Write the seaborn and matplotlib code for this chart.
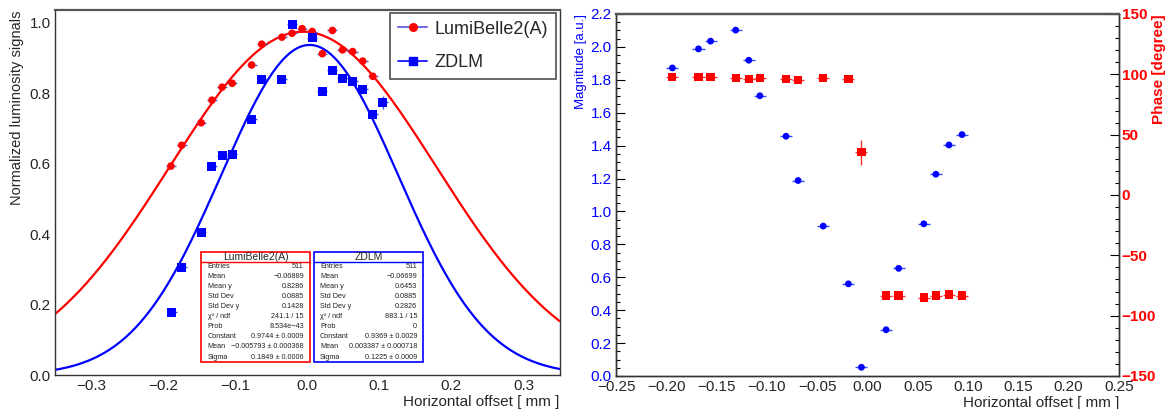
import numpy as np
import pandas as pd
import matplotlib
matplotlib.use("Agg")
import matplotlib.pyplot as plt
from matplotlib.lines import Line2D
from matplotlib.patches import Rectangle
from matplotlib.ticker import MultipleLocator
import seaborn as sns

# left panel: normalized luminosity signals vs horizontal offset
lumi_x = [-0.189, -0.174, -0.147, -0.132, -0.118, -0.104, -0.077, -0.063, -0.035,
          -0.021, -0.007, 0.007, 0.021, 0.035, 0.049, 0.063, 0.077, 0.091]
lumi_y = [0.593, 0.652, 0.716, 0.780, 0.817, 0.828, 0.880, 0.939, 0.959,
          0.970, 0.983, 0.975, 0.912, 0.978, 0.923, 0.918, 0.891, 0.848]
zdlm_x = [-0.188, -0.174, -0.147, -0.132, -0.118, -0.104, -0.077, -0.063, -0.035,
          -0.021, 0.007, 0.021, 0.035, 0.049, 0.063, 0.077, 0.091, 0.105]
zdlm_y = [0.178, 0.306, 0.405, 0.592, 0.623, 0.626, 0.726, 0.839, 0.839,
          0.995, 0.958, 0.806, 0.865, 0.842, 0.834, 0.811, 0.740, 0.774]
zdlm_yerr = [0.004, 0.004, 0.004, 0.004, 0.004, 0.004, 0.012, 0.004, 0.004,
             0.004, 0.004, 0.004, 0.004, 0.004, 0.004, 0.004, 0.004, 0.018]

# gaussian fit results (constant, mean, sigma)
lumi_fit = (0.9744, -0.005793, 0.1849)
zdlm_fit = (0.9369, 0.003387, 0.1225)

lumi_stats = [("Entries", "511"), ("Mean", "\u22120.06889"), ("Mean y", "0.8286"),
              ("Std Dev", "0.0885"), ("Std Dev y", "0.1428"), ("\u03c7\u00b2 / ndf", "241.1 / 15"),
              ("Prob", "8.534e\u221243"), ("Constant", "0.9744 \u00b1 0.0009"),
              ("Mean", "\u22120.005793 \u00b1 0.000368"), ("Sigma", "0.1849 \u00b1 0.0006")]
zdlm_stats = [("Entries", "511"), ("Mean", "\u22120.06699"), ("Mean y", "0.6453"),
              ("Std Dev", "0.0885"), ("Std Dev y", "0.2826"), ("\u03c7\u00b2 / ndf", "883.1 / 15"),
              ("Prob", "0"), ("Constant", "0.9369 \u00b1 0.0029"),
              ("Mean", "0.003387 \u00b1 0.000718"), ("Sigma", "0.1225 \u00b1 0.0009")]

# right panel: magnitude and phase vs horizontal offset
mag_x = [-0.194, -0.168, -0.156, -0.131, -0.118, -0.107, -0.081, -0.069, -0.044,
         -0.019, -0.006, 0.0185, 0.031, 0.056, 0.068, 0.081, 0.094]
mag_y = [1.872, 1.988, 2.035, 2.102, 1.919, 1.703, 1.457, 1.188, 0.911,
         0.560, 0.053, 0.281, 0.654, 0.925, 1.226, 1.404, 1.467]
phase_y = [97.7, 97.7, 97.7, 96.9, 96.1, 96.9, 96.1, 95.2, 96.9,
           96.1, 35.4, -83.3, -83.3, -85.0, -83.3, -82.5, -83.3]
phase_err = [1, 1, 1, 1, 1, 1, 1, 1, 1, 1, 10.4, 1, 1, 1, 1, 1, 1]

sns.set_style("white")
plt.rcParams["font.family"] = ["Liberation Sans", "DejaVu Sans"]
plt.rcParams["axes.unicode_minus"] = True

RED = "#ff0000"
BLUE = "#0000ff"
FRAME = "#333333"


def gauss(x, c, m, s):
    return c * np.exp(-0.5 * ((x - m) / s) ** 2)


def root_frame(ax):
    for sp in ax.spines.values():
        sp.set_color(FRAME)
        sp.set_linewidth(1.0)
    ax.spines["top"].set_linewidth(1.6)
    ax.spines["top"].set_color("#555555")
    ax.tick_params(which="both", direction="in", color="black", width=0.8)
    ax.tick_params(which="major", length=6.5)
    ax.tick_params(which="minor", length=3.2)


fig = plt.figure(figsize=(11.68, 4.09), dpi=100)
ax1 = fig.add_axes([0.0469, 0.0831, 0.4322, 0.8924])
ax2 = fig.add_axes([0.5274, 0.0807, 0.4306, 0.8851])

# ---- left panel ----
xs = np.linspace(-0.35, 0.35, 400)
curves = pd.DataFrame({"x": np.concatenate([xs, xs]),
                       "y": np.concatenate([gauss(xs, *lumi_fit), gauss(xs, *zdlm_fit)]),
                       "det": ["LumiBelle2(A)"] * len(xs) + ["ZDLM"] * len(xs)})
sns.lineplot(data=curves, x="x", y="y", hue="det", palette=[RED, BLUE],
             linewidth=1.6, legend=False, ax=ax1, zorder=2)

ax1.errorbar(lumi_x, lumi_y, xerr=0.007, fmt="none", ecolor="#5a5ad0", elinewidth=1.0, zorder=3)
ax1.errorbar(zdlm_x, zdlm_y, xerr=0.007, yerr=zdlm_yerr, fmt="none", ecolor="#3050ff",
             elinewidth=1.0, zorder=3)
sns.scatterplot(x=lumi_x, y=lumi_y, marker="o", s=30, color=RED, edgecolor="none",
                ax=ax1, zorder=4)
sns.scatterplot(x=zdlm_x, y=zdlm_y, marker="s", s=42, color=BLUE, edgecolor="none",
                ax=ax1, zorder=4)

ax1.set_xlim(-0.35, 0.35)
ax1.set_ylim(0, 1.036)
ax1.xaxis.set_major_locator(MultipleLocator(0.1))
ax1.xaxis.set_minor_locator(MultipleLocator(0.02))
ax1.yaxis.set_major_locator(MultipleLocator(0.2))
ax1.yaxis.set_minor_locator(MultipleLocator(0.05))
root_frame(ax1)
ax1.tick_params(labelsize=11, pad=3)
ax1.set_xlabel("Horizontal offset [ mm ]", loc="right", fontsize=11, labelpad=1)
ax1.set_ylabel("Normalized luminosity signals", loc="top", fontsize=10.5, labelpad=4)

handles = [Line2D([0], [0], color="#7070e0", lw=1.5, marker="o", markersize=5.5,
                  markerfacecolor=RED, markeredgecolor=RED),
           Line2D([0], [0], color=BLUE, lw=1.2, marker="s", markersize=6,
                  markerfacecolor=BLUE, markeredgecolor=BLUE)]
leg = ax1.legend(handles, ["LumiBelle2(A)", "ZDLM"], loc="upper right",
                 bbox_to_anchor=(0.993, 0.993), borderaxespad=0, fontsize=13,
                 frameon=True, fancybox=False, borderpad=0.45, labelspacing=0.9,
                 handlelength=1.6, handletextpad=0.4)
leg.get_frame().set_edgecolor(FRAME)
leg.get_frame().set_linewidth(1.3)

# stat boxes
for (x0, x1), color, title, rows in [((0.2906, 0.5055), RED, "LumiBelle2(A)", lumi_stats),
                                     ((0.5135, 0.730), BLUE, "ZDLM", zdlm_stats)]:
    y0, y1 = 0.0356, 0.3378
    ax1.add_patch(Rectangle((x0, y0), x1 - x0, y1 - y0, transform=ax1.transAxes,
                            facecolor="white", edgecolor=color, lw=1.2, zorder=5))
    rh = (y1 - y0) / 11
    ax1.plot([x0, x1], [y1 - rh, y1 - rh], transform=ax1.transAxes, color=color,
             lw=1.0, zorder=6)
    ax1.text((x0 + x1) / 2, y1 - rh / 2, title, transform=ax1.transAxes, ha="center",
             va="center", fontsize=7.5, zorder=7)
    for i, (name, val) in enumerate(rows):
        yy = y1 - rh * (i + 1.5)
        ax1.text(x0 + 0.012, yy, name, transform=ax1.transAxes, ha="left", va="center",
                 fontsize=5.2, color="#222222", zorder=7)
        ax1.text(x1 - 0.012, yy, val, transform=ax1.transAxes, ha="right", va="center",
                 fontsize=5.2, color="#222222", zorder=7)

# ---- right panel ----
ax3 = ax2.twinx()
ax2.errorbar(mag_x, mag_y, xerr=0.006, fmt="none", ecolor="#3050ff", elinewidth=1.0, zorder=3)
sns.scatterplot(x=mag_x, y=mag_y, marker="o", s=24, color=BLUE, edgecolor="none",
                ax=ax2, zorder=4)
ax3.errorbar(mag_x, phase_y, xerr=0.006, yerr=phase_err, fmt="none", ecolor="#ff3030",
             elinewidth=1.0, zorder=3)
sns.scatterplot(x=mag_x, y=phase_y, marker="s", s=36, color=RED, edgecolor="none",
                ax=ax3, zorder=4)

ax2.set_xlim(-0.25, 0.25)
ax2.set_ylim(0, 2.2)
ax3.set_ylim(-150, 150)
ax2.xaxis.set_major_locator(MultipleLocator(0.05))
ax2.xaxis.set_minor_locator(MultipleLocator(0.01))
ax2.yaxis.set_major_locator(MultipleLocator(0.2))
ax2.yaxis.set_minor_locator(MultipleLocator(0.05))
ax3.yaxis.set_major_locator(MultipleLocator(50))
ax3.yaxis.set_minor_locator(MultipleLocator(10))
root_frame(ax2)
root_frame(ax3)
ax2.tick_params(axis="x", labelsize=11, pad=3)
ax2.tick_params(axis="y", labelsize=11, labelcolor=BLUE, pad=3)
ax3.tick_params(axis="y", labelsize=11, labelcolor=RED, pad=2)
for t in ax3.get_yticklabels():
    t.set_fontweight("bold")
ax2.set_xlabel("Horizontal offset [ mm ]", loc="right", fontsize=11, labelpad=1)
ax2.set_ylabel("Magnitude [a.u.]", loc="top", fontsize=9.5, color=BLUE, labelpad=3)
ax3.set_ylabel("Phase [degree]", loc="top", fontsize=11, color=RED, fontweight="bold")
ax3.yaxis.set_label_coords(1.079, 1.0)
ax3.yaxis.label.set_verticalalignment("center")

fig.savefig("out.png", dpi=100)
